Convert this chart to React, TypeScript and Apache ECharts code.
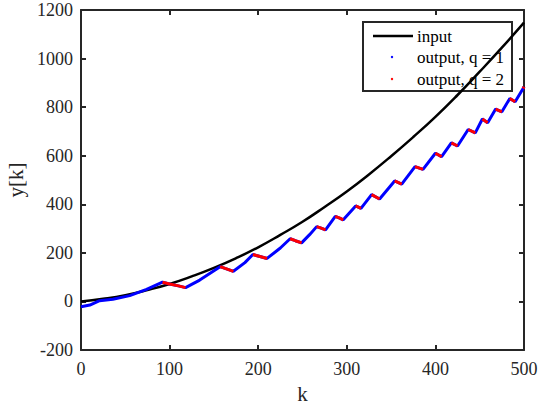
import React, { useEffect, useRef } from "react";
import * as echarts from "echarts";

// Input curve samples (k, y)
const inputK = [0, 25, 50, 75, 100, 125, 150, 175, 200, 225, 250, 275, 300, 325, 350, 375, 400, 425, 450, 475, 500];
const inputY = [0, 11, 26, 47, 72, 103, 138, 178, 223, 274, 328, 389, 453, 523, 598, 677, 760, 850, 946, 1045, 1148];

// Output samples (k, y) and mode q of the segment starting at each sample
const outputK = [0, 10, 21, 36, 55, 74, 92, 100, 110, 118, 134, 157, 165, 172, 185, 194, 202, 210, 225, 236, 242, 249, 258, 266, 271, 276, 287, 292, 296, 310, 316, 328, 337, 354, 362, 377, 386, 400, 407, 418, 425, 437, 445, 453, 459, 468, 475, 484, 490, 499, 500];
const outputY = [-22, -15, 3, 9, 24, 50, 79, 72, 64, 57, 88, 143, 133, 124, 160, 193, 185, 177, 220, 258, 250, 241, 275, 308, 302, 295, 350, 343, 336, 393, 383, 440, 422, 496, 483, 555, 544, 610, 596, 653, 640, 708, 694, 751, 736, 792, 781, 836, 822, 877, 884];
const outputQ = [1, 1, 1, 1, 1, 1, 2, 2, 2, 1, 1, 2, 2, 1, 1, 2, 2, 1, 1, 2, 2, 1, 1, 2, 2, 1, 2, 2, 1, 2, 1, 2, 1, 2, 1, 2, 1, 2, 1, 2, 1, 2, 1, 2, 1, 2, 1, 2, 1, 2, 2];

const xTicks = [0, 100, 200, 300, 400, 500];
const yTicks = [-200, 0, 200, 400, 600, 800, 1000, 1200];

const legendNames = ["input", "output, q = 1", "output, q = 2"];

const FONT = "Times New Roman, Liberation Serif, serif";
const AX = "#262626";

export default function App() {
  const ref = useRef<HTMLDivElement>(null);
  useEffect(() => {
    if (!ref.current) return;
    const chart = echarts.init(ref.current, undefined, { renderer: "svg" });

    const inputData = inputK.map((k, i) => [k, inputY[i]]);
    const blueData = outputK.map((k, i) => [k, outputY[i]]);
    const redData: any[] = [];
    for (let i = 0; i < outputK.length - 1; i++) {
      if (outputQ[i] === 2) {
        const last = redData[redData.length - 1];
        if (!last || last[0] !== outputK[i] || last[1] === "-") {
          if (redData.length) redData.push([outputK[i] - 0.5, "-"]);
          redData.push([outputK[i], outputY[i]]);
        }
        redData.push([outputK[i + 1], outputY[i + 1]]);
      }
    }

    const xMin = xTicks[0], xMax = xTicks[xTicks.length - 1];
    const yMin = yTicks[0], yMax = yTicks[yTicks.length - 1];

    const axisCommon = {
      type: "value" as const,
      axisLine: { show: true, onZero: false, lineStyle: { color: AX, width: 2 } },
      axisTick: { show: true, inside: true, length: 5, lineStyle: { color: AX, width: 2 } },
      splitLine: { show: false },
    };
    const fmt = (v: number) => String(v);

    chart.setOption({
      animation: false,
      textStyle: { fontFamily: FONT },
      grid: { left: 81, top: 10, width: 443, height: 340, containLabel: false, outerBoundsMode: "none" },
      xAxis: [
        {
          ...axisCommon,
          min: xMin, max: xMax, interval: 100,
          position: "bottom",
          axisLabel: { color: AX, fontFamily: FONT, fontSize: 18, margin: 10, formatter: fmt },
          name: "k",
          nameLocation: "middle",
          nameGap: 33,
          nameTextStyle: { color: AX, fontFamily: FONT, fontSize: 21 },
        },
        {
          ...axisCommon,
          min: xMin, max: xMax, interval: 100,
          position: "top",
          axisLabel: { show: false },
        },
      ],
      yAxis: [
        {
          ...axisCommon,
          min: yMin, max: yMax, interval: 200,
          position: "left",
          axisLabel: { color: AX, fontFamily: FONT, fontSize: 18, margin: 8, formatter: fmt },
          name: "y[k]",
          nameLocation: "middle",
          nameGap: 45,
          nameTextStyle: { color: AX, fontFamily: FONT, fontSize: 21 },
        },
        {
          ...axisCommon,
          min: yMin, max: yMax, interval: 200,
          position: "right",
          axisLabel: { show: false },
        },
      ],
      series: [
        {
          name: legendNames[0],
          type: "line",
          data: inputData,
          smooth: true,
          showSymbol: false,
          lineStyle: { color: "#000000", width: 2.5 },
          z: 3,
        },
        {
          name: legendNames[1],
          type: "line",
          data: blueData,
          showSymbol: false,
          lineStyle: { color: "#0000ff", width: 3 },
          z: 4,
        },
        {
          name: legendNames[2],
          type: "line",
          data: redData,
          connectNulls: false,
          showSymbol: false,
          lineStyle: { color: "#ff0000", width: 3 },
          z: 5,
        },
      ],
      graphic: [
        {
          type: "group",
          z: 100,
          children: [
            { type: "rect", shape: { x: 363, y: 22, width: 149, height: 69 }, style: { fill: "#ffffff", stroke: AX, lineWidth: 2 } },
            { type: "line", shape: { x1: 373, y1: 36, x2: 413, y2: 36 }, style: { stroke: "#000000", lineWidth: 2.5 } },
            { type: "circle", shape: { cx: 392, cy: 57, r: 1.2 }, style: { fill: "#0000ff" } },
            { type: "circle", shape: { cx: 392, cy: 79, r: 1.2 }, style: { fill: "#ff0000" } },
            { type: "text", x: 417, y: 36, style: { text: legendNames[0], fontFamily: FONT, fontSize: 17, fill: "#000000", verticalAlign: "middle" } },
            { type: "text", x: 417, y: 57, style: { text: legendNames[1], fontFamily: FONT, fontSize: 17, fill: "#000000", verticalAlign: "middle" } },
            { type: "text", x: 417, y: 79, style: { text: legendNames[2], fontFamily: FONT, fontSize: 17, fill: "#000000", verticalAlign: "middle" } },
          ],
        },
      ],
    });
    return () => chart.dispose();
  }, []);
  return <div ref={ref} style={{ position: "fixed", left: 0, top: 0, width: 538, height: 408, background: "#fff" }} />;
}
